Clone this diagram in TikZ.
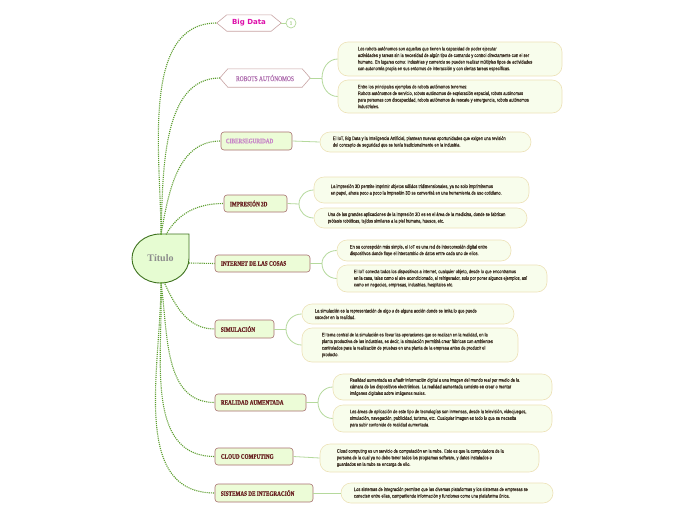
\documentclass[tikz,border=0pt]{standalone}
\usepackage{fontspec}
\setmainfont{Liberation Serif}
\newfontfamily\leaffont[FakeStretch=0.8,FakeBold=0.4]{Liberation Sans}
\newfontfamily\topicfont[FakeStretch=0.76,FakeBold=0.8]{Liberation Serif}
\newfontfamily\bigfont{DejaVu Sans}
\definecolor{dotgreen}{HTML}{5C9E2E}
\definecolor{leafline}{HTML}{B5D99C}
\definecolor{topicfill}{HTML}{ECFCD7}
\definecolor{topicborder}{HTML}{A87070}
\definecolor{topicink}{HTML}{6A2222}
\definecolor{leaffill}{HTML}{F8FDEC}
\definecolor{leafborder}{HTML}{EDE2B8}
\definecolor{leafink}{HTML}{3E3226}
\definecolor{titfill}{HTML}{E6FCD2}
\definecolor{titborder}{HTML}{3F7320}
\definecolor{titink}{HTML}{8C8C8C}
\definecolor{hexborder}{HTML}{C8A4A4}
\definecolor{bigink}{HTML}{DD11AA}
\definecolor{robink}{HTML}{B070B0}
\definecolor{ciberink}{HTML}{C88AC8}
\begin{document}
\begin{tikzpicture}[x=1pt,y=-1pt,
  dotcon/.style={draw=dotgreen, line width=1.1pt, densely dotted},
  leafcon/.style={draw=leafline, line width=0.8pt},
  topic/.style={draw=topicborder, fill=topicfill, line width=0.6pt, rounded corners=3pt, inner sep=0pt},
  topiclabel/.style={anchor=west, inner sep=0pt, font=\topicfont\bfseries\fontsize{6.8}{8}\selectfont, text=topicink},
  hexnode/.style={inner sep=0pt},
  hexline/.style={draw=hexborder, fill=white, line width=0.6pt},
  leaf/.style={draw=leafborder, fill=leaffill, line width=0.6pt, rounded corners=10pt, inner sep=0pt},
  leaftext/.style={anchor=west, align=left, inner sep=0pt, font=\leaffont\fontsize{5}{6.6}\selectfont, text=leafink}
]
\useasboundingbox[fill=white] (0,0) rectangle (696,520);

% ---------- central node ----------
\draw[fill=titfill, draw=titborder, line width=0.9pt] (160.5,234) -- (189,234) -- (189,258.5)
   arc[start angle=0, end angle=-270, x radius=28.5pt, y radius=24.5pt] -- cycle;
\node[font=\bfseries\fontsize{10}{12}\selectfont, text=titink] (tit) at (160.5,258.5) {Título};
\coordinate (ttop) at (161,234.5);
\coordinate (ttop2) at (166,234.5);
\coordinate (tright) at (189,263);
\coordinate (tbot) at (161,282.5);
\coordinate (tbot2) at (164,282);

% ---------- topics ----------
\node[hexnode, minimum width=64, minimum height=16] (bd) at (249,23) {};
\draw[hexline] (bd.west) -- ([xshift=10pt]bd.north west) -- ([xshift=-10pt]bd.north east) -- (bd.east)
   -- ([xshift=-10pt]bd.south east) -- ([xshift=10pt]bd.south west) -- cycle;
\node[hexnode, font=\bigfont\bfseries\fontsize{7}{8}\selectfont, text=bigink] (bdt) at (bd.center) {Big Data};
\node[circle, draw=leafline, line width=0.7pt, minimum size=10pt, inner sep=0pt, font=\leaffont\fontsize{5}{6}\selectfont, text=leafline] (bdc) at (291,23) {1};
\draw[leafcon] (bd.east) -- (bdc.west);

\node[hexnode, minimum width=90, minimum height=18] (rob) at (265,78) {};
\draw[hexline] (rob.west) -- ([xshift=8pt]rob.north west) -- ([xshift=-8pt]rob.north east) -- (rob.east)
   -- ([xshift=-8pt]rob.south east) -- ([xshift=8pt]rob.south west) -- cycle;
\node[hexnode, font=\topicfont\fontsize{7.2}{8}\selectfont, text=robink] (robt) at (rob.center) {ROBOTS AUTÓNOMOS};

\node[topic, minimum width=71, minimum height=18] (cib) at (256.5,141) {};
\node[topiclabel, text=ciberink] (cibt) at ([xshift=5pt]cib.west) {CIBERSEGURIDAD};
\node[topic, minimum width=63, minimum height=17] (imp) at (255.5,203.5) {};
\node[topiclabel] (impt) at ([xshift=6pt]imp.west) {IMPRESIÓN 3D};
\node[topic, minimum width=95, minimum height=17] (iot) at (262.5,263.5) {};
\node[topiclabel] (iott) at ([xshift=6pt]iot.west) {INTERNET DE LAS COSAS};
\node[topic, minimum width=59, minimum height=18] (sim) at (244.5,329) {};
\node[topiclabel] (simt) at ([xshift=6pt]sim.west) {SIMULACIÓN};
\node[topic, minimum width=91, minimum height=17] (ra) at (260.5,402.5) {};
\node[topiclabel] (rat) at ([xshift=6pt]ra.west) {REALIDAD AUMENTADA};
\node[topic, minimum width=78, minimum height=17] (cc) at (254,456.5) {};
\node[topiclabel] (cct) at ([xshift=6pt]cc.west) {CLOUD COMPUTING};
\node[topic, minimum width=98, minimum height=18] (si) at (264,493) {};
\node[topiclabel] (sit) at ([xshift=6pt]si.west) {SISTEMAS DE INTEGRACIÓN};

% ---------- central connectors ----------
\draw[dotcon] (ttop) to[out=90, in=180, looseness=0.9] (bd.west);
\draw[dotcon] (ttop) to[out=88, in=180, looseness=0.9] (rob.west);
\draw[dotcon] (ttop) to[out=80, in=180] (cib.west);
\draw[dotcon] (ttop2) to[out=60, in=180] (imp.west);
\draw[dotcon] (tright) -- (iot.west);
\draw[dotcon] (tbot2) to[out=-65, in=180] (sim.west);
\draw[dotcon] (tbot) to[out=-82, in=180] (ra.west);
\draw[dotcon] (tbot) to[out=-88, in=180] (cc.west);
\draw[dotcon] (tbot) to[out=-90, in=180] (si.west);

% ---------- leaves ----------
% Robots
\node[leaf, minimum width=224, minimum height=34] (r1) at (450,59) {};
\node[leaftext] (r1t) at ([xshift=20pt]r1.west) {Los robots autónomos son aquellos que tienen la capacidad de poder ejecutar\\
actividades y tareas sin la necesidad de algún tipo de comando y control directamente con el ser\\
humano. En lugares como: industrias y comercio se pueden realizar múltiples tipos de actividades\\
con autonomía propia en sus entornos de interacción y con ciertas tareas específicas.};
\node[leaf, minimum width=224, minimum height=33] (r2) at (450,96.5) {};
\node[leaftext] (r2t) at ([xshift=20pt]r2.west) {Entre los principales ejemplos de robots autónomos tenemos:\\
Robots autónomos de servicio, robots autónomos de exploración espacial, robots autónomos\\
para personas con discapacidad, robots autónomos de rescate y emergencia, robots autónomos\\
industriales.};
\coordinate (rj) at (322,78);
\draw[leafcon] (rob.east) -- (rj);
\draw[leafcon] (rj) to[out=90, in=180] (r1.west);
\draw[leafcon] (rj) to[out=-90, in=180] (r2.west);

% Ciberseguridad
\node[leaf, minimum width=211, minimum height=20] (c1) at (425.5,142) {};
\node[leaftext] (c1t) at ([xshift=13pt]c1.west) {El IoT, Big Data y la Inteligencia Artificial, plantean nuevas oportunidades que exigen una revisión\\
del concepto de seguridad que se tenía tradicionalmente en la industria.};
\draw[leafcon] (cib.east) -- (c1.west);

% Impresion 3D
\node[leaf, minimum width=215, minimum height=26] (i1) at (421.5,190) {};
\node[leaftext] (i1t) at ([xshift=17pt]i1.west) {La impresión 3D permite imprimir objetos sólidos tridimensionales, ya no solo imprimiremos\\
en papel, ahora poco a poco la impresión 3D se convertirá en una herramienta de uso cotidiano.};
\node[leaf, minimum width=213, minimum height=20] (i2) at (420.5,218) {};
\node[leaftext] (i2t) at ([xshift=14pt]i2.west) {Una de las grandes aplicaciones de la impresión 3D es en el área de la medicina, donde se fabrican\\
prótesis robóticas, tejidos similares a la piel humana, huesos, etc.};
\coordinate (ij) at (299,204);
\draw[leafcon] (imp.east) -- (ij);
\draw[leafcon] (ij) to[out=90, in=180] (i1.west);
\draw[leafcon] (ij) to[out=-90, in=180] (i2.west);

% Internet de las cosas
\node[leaf, minimum width=174, minimum height=21] (o1) at (424,250.5) {};
\node[leaftext] (o1t) at ([xshift=13pt]o1.west) {En su concepción más simple, el IoT es una red de interconexión digital entre\\
dispositivos donde fluye el intercambio de datos entre cada uno de ellos.};
\node[leaf, minimum width=210, minimum height=27] (o2) at (442,278.5) {};
\node[leaftext] (o2t) at ([xshift=17pt]o2.west) {El IoT conecta todos los dispositivos a internet, cualquier objeto, desde lo que encontramos\\
en la casa, tales como el aire acondicionado, el refrigerador, solo por poner algunos ejemplos, así\\
como en negocios, empresas, industrias, hospitales etc.};
\coordinate (oj) at (322,263.5);
\draw[leafcon] (iot.east) -- (oj);
\draw[leafcon] (oj) to[out=90, in=180] (o1.west);
\draw[leafcon] (oj) to[out=-90, in=180] (o2.west);

% Simulacion
\node[leaf, minimum width=212, minimum height=20] (s1) at (408,314) {};
\node[leaftext] (s1t) at ([xshift=13pt]s1.west) {La simulación es la representación de algo o de alguna acción donde se imita lo que puede\\
suceder en la realidad.};
\node[leaf, minimum width=216, minimum height=34] (s2) at (410,345) {};
\node[leaftext] (s2t) at ([xshift=20pt]s2.west) {El tema central de la simulación es llevar las operaciones que se realizan en la realidad, en la\\
planta productiva de las industrias, es decir, la simulación permitirá crear fábricas con ambientes\\
controlados para la realización de pruebas en una planta de la empresa antes de producir el\\
producto.};
\coordinate (sj) at (286,329);
\draw[leafcon] (sim.east) -- (sj);
\draw[leafcon] (sj) to[out=90, in=180] (s1.west);
\draw[leafcon] (sj) to[out=-90, in=180] (s2.west);

% Realidad aumentada
\node[leaf, minimum width=219, minimum height=26] (a1) at (442.5,387) {};
\node[leaftext] (a1t) at ([xshift=17pt]a1.west) {Realidad aumentada es añadir información digital a una imagen del mundo real por medio de la\\
cámara de los dispositivos electrónicos. La realidad aumentada consiste en crear o montar\\
imágenes digitales sobre imágenes reales.};
\node[leaf, minimum width=219, minimum height=27] (a2) at (442.5,418.5) {};
\node[leaftext] (a2t) at ([xshift=17pt]a2.west) {Las áreas de aplicación de este tipo de tecnologías son inmensas, desde la televisión, videojuegos,\\
simulación, navegación, publicidad, turismo, etc. Cualquier imagen es todo lo que se necesita\\
para subir contenido de realidad aumentada.};
\coordinate (aj) at (318,402.5);
\draw[leafcon] (ra.east) -- (aj);
\draw[leafcon] (aj) to[out=90, in=180] (a1.west);
\draw[leafcon] (aj) to[out=-90, in=180] (a2.west);

% Cloud computing
\node[leaf, minimum width=219, minimum height=28] (k1) at (429.5,458) {};
\node[leaftext] (k1t) at ([xshift=17pt]k1.west) {Cloud computing es un servicio de computación en la nube. Esto es que la computadora de la\\
persona de la cual ya no debe tener todos los programas software, y datos instalados o\\
guardados en la nube se encarga de ello.};
\draw[leafcon] (cc.east) -- (k1.west);

% Sistemas de integracion
\node[leaf, minimum width=212, minimum height=20] (g1) at (447,493) {};
\node[leaftext] (g1t) at ([xshift=13pt]g1.west) {Los sistemas de integración permiten que las diversas plataformas y los sistemas de empresas se\\
conecten entre ellas, compartiendo información y funciones como una plataforma única.};
\draw[leafcon] (si.east) -- (g1.west);
\end{tikzpicture}
\end{document}
